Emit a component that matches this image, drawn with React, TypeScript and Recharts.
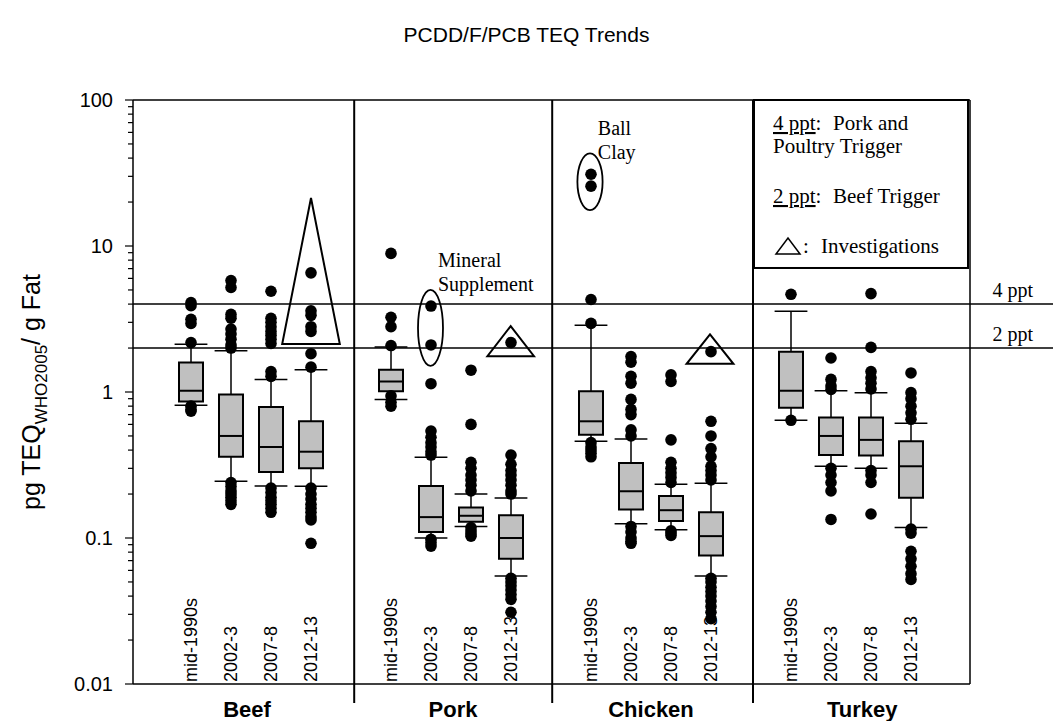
import React from 'react';
import {
  ComposedChart,
  XAxis,
  YAxis,
  Scatter,
  ReferenceLine,
  ReferenceArea,
  ReferenceDot,
} from 'recharts';

const species = ['Beef', 'Pork', 'Chicken', 'Turkey'];
const periods = ['mid-1990s', '2002-3', '2007-8', '2012-13'];
// slot of each box on the x scale (one empty slot between species)
const boxSlots = [0, 1, 2, 3, 5, 6, 7, 8, 10, 11, 12, 13, 15, 16, 17, 18];
const speciesLabelPos = [1.4, 6.55, 11.5, 16.78];
const dividerPos = [4.08, 9.03, 14.05];
const X_MIN = -1.45;
const X_MAX = 21.55;
const FRAME_RIGHT = 19.475;

const yMajorTicks = [0.01, 0.1, 1, 10, 100];
const yTickLabels = ['0.01', '0.1', '1', '10', '100'];
const yMinorTicks = [
  0.02, 0.03, 0.04, 0.05, 0.06, 0.07, 0.08, 0.09,
  0.2, 0.3, 0.4, 0.5, 0.6, 0.7, 0.8, 0.9,
  2, 3, 4, 5, 6, 7, 8, 9,
  20, 30, 40, 50, 60, 70, 80, 90,
];

// box stats, order: Beef x4, Pork x4, Chicken x4, Turkey x4
const q1 = [0.86, 0.36, 0.283, 0.3, 1.01, 0.11, 0.129, 0.072, 0.51, 0.157, 0.131, 0.076, 0.78, 0.37, 0.367, 0.189];
const median = [1.02, 0.5, 0.42, 0.39, 1.18, 0.139, 0.142, 0.1, 0.63, 0.209, 0.155, 0.103, 1.02, 0.5, 0.47, 0.31];
const q3 = [1.59, 0.96, 0.79, 0.63, 1.42, 0.227, 0.162, 0.143, 1.01, 0.327, 0.194, 0.15, 1.89, 0.67, 0.67, 0.46];
const whiskerLow = [0.81, 0.245, 0.227, 0.226, 0.89, 0.1, 0.12, 0.055, 0.46, 0.125, 0.114, 0.055, 0.64, 0.31, 0.3, 0.118];
const whiskerHigh = [2.12, 1.92, 1.22, 1.42, 2.03, 0.357, 0.2, 0.188, 2.87, 0.476, 0.233, 0.237, 3.58, 1.02, 0.99, 0.61];

const outliers = [
  [4.1, 3.9, 3.15, 2.95, 2.18, 0.8, 0.76, 0.74],
  [5.8, 5.2, 3.4, 3.2, 2.7, 2.5, 2.3, 2.1, 2.0, 0.24, 0.225, 0.21, 0.2, 0.19, 0.18, 0.17],
  [4.9, 3.2, 3.0, 2.8, 2.6, 2.45, 2.3, 2.15, 1.38, 1.28, 0.22, 0.205, 0.19, 0.18, 0.17, 0.16, 0.15],
  [6.55, 3.6, 3.35, 2.8, 2.6, 1.83, 1.48, 0.22, 0.2, 0.185, 0.17, 0.16, 0.15, 0.14, 0.133, 0.092],
  [8.9, 3.25, 2.8, 2.08, 0.94, 0.85, 0.8],
  [3.88, 2.1, 1.14, 0.54, 0.49, 0.45, 0.42, 0.39, 0.37, 0.098, 0.093, 0.088],
  [1.41, 0.6, 0.33, 0.3, 0.27, 0.25, 0.23, 0.21, 0.118, 0.112, 0.107, 0.103],
  [2.18, 0.37, 0.32, 0.29, 0.27, 0.25, 0.23, 0.21, 0.2, 0.053, 0.05, 0.047, 0.044, 0.041, 0.038, 0.031],
  [31, 25.7, 4.3, 2.95, 0.45, 0.42, 0.4, 0.38, 0.36],
  [1.75, 1.6, 1.28, 1.15, 0.89, 0.76, 0.7, 0.55, 0.5, 0.12, 0.11, 0.1, 0.095, 0.092],
  [1.31, 1.18, 0.47, 0.33, 0.3, 0.28, 0.26, 0.24, 0.112, 0.108, 0.104],
  [1.89, 0.63, 0.5, 0.41, 0.36, 0.31, 0.29, 0.27, 0.25, 0.053, 0.05, 0.046, 0.043, 0.04, 0.037, 0.034, 0.031, 0.028],
  [4.67, 0.64],
  [1.71, 1.22, 1.1, 1.04, 0.3, 0.27, 0.24, 0.21, 0.134],
  [4.72, 2.02, 1.38, 1.25, 1.15, 1.05, 0.29, 0.27, 0.24, 0.146],
  [1.35, 0.99, 0.9, 0.8, 0.72, 0.65, 0.115, 0.108, 0.081, 0.072, 0.064, 0.057, 0.052],
];

const triggers = [4, 2];
const triggerLabels = ['4 ppt', '2 ppt'];

// investigation triangles and circled outliers, in data units
const triangles = [
  { x1: 2.28, x2: 3.72, y1: 2.13, y2: 21.3 },
  { x1: 7.41, x2: 8.575, y1: 1.76, y2: 2.83 },
  { x1: 12.39, x2: 13.56, y1: 1.56, y2: 2.48 },
];
const ellipses = [
  { x1: 5.675, x2: 6.3, y1: 1.51, y2: 5.0 },
  { x1: 9.66, x2: 10.29, y1: 17.6, y2: 43.1 },
];

const sans = "'Liberation Sans', Arial, sans-serif";
const serif = "'Liberation Serif', 'Times New Roman', serif";

const outlierPts = outliers.flatMap((vals, i) => vals.map((v) => ({ x: boxSlots[i], y: v })));
const periodPts = boxSlots.map((s, i) => ({ x: s, y: 0.01, label: periods[i % 4] }));

function YTick(props: any) {
  const { x, y, payload } = props;
  const idx = yMajorTicks.indexOf(payload.value);
  const major = idx >= 0;
  return (
    <g>
      <line x1={x - (major ? 8 : 5)} x2={x} y1={y} y2={y} stroke="#000" strokeWidth={1.2} />
      {major && (
        <text x={x - 20} y={y} dy={7} textAnchor="end" fontSize={20} fontFamily={sans} fill="#000">
          {yTickLabels[idx]}
        </text>
      )}
    </g>
  );
}

function XTick(props: any) {
  const { x, y, payload } = props;
  if (dividerPos.indexOf(payload.value) >= 0) {
    return <line x1={x} x2={x} y1={y} y2={y + 19} stroke="#000" strokeWidth={2} />;
  }
  const si = speciesLabelPos.indexOf(payload.value);
  return (
    <text x={x} y={y + 33} textAnchor="middle" fontSize={22} fontWeight="bold" fontFamily={sans} fill="#000">
      {species[si]}
    </text>
  );
}

const Dot = (p: any) => <circle cx={p.cx} cy={p.cy} r={5.8} fill="#000" />;

const PeriodLabel = (p: any) => (
  <text
    transform={`translate(${p.cx + 6},${p.cy - 2}) rotate(-90)`}
    fontSize={18}
    fontFamily={sans}
    fill="#000"
  >
    {p.payload?.label}
  </text>
);

const Triangle = (p: any) => (
  <polygon
    points={`${p.x + p.width / 2},${p.y} ${p.x},${p.y + p.height} ${p.x + p.width},${p.y + p.height}`}
    fill="none"
    stroke="#000"
    strokeWidth={2}
  />
);

const Ellipse = (p: any) => (
  <ellipse
    cx={p.x + p.width / 2}
    cy={p.y + p.height / 2}
    rx={p.width / 2}
    ry={p.height / 2}
    fill="none"
    stroke="#000"
    strokeWidth={1.8}
  />
);

const LegendBox = (p: any) => {
  const { x, y, width, height } = p;
  const t = { fontSize: 21, fontFamily: serif, fill: '#000' };
  return (
    <g>
      <rect x={x} y={y} width={width} height={height} fill="#fff" stroke="#000" strokeWidth={2} />
      <text {...t} x={x + 19} y={y + 30}>
        <tspan textDecoration="underline">4 ppt</tspan>
        <tspan>:</tspan>
        <tspan x={x + 79}>Pork and</tspan>
      </text>
      <text {...t} x={x + 19} y={y + 53}>Poultry Trigger</text>
      <text {...t} x={x + 19} y={y + 103}>
        <tspan textDecoration="underline">2 ppt</tspan>
        <tspan>:</tspan>
        <tspan x={x + 79}>Beef Trigger</tspan>
      </text>
      <polygon
        points={`${x + 22},${y + 154} ${x + 46},${y + 154} ${x + 34},${y + 138}`}
        fill="none"
        stroke="#000"
        strokeWidth={1.5}
      />
      <text {...t} x={x + 49} y={y + 153}>
        <tspan>:</tspan>
        <tspan x={x + 67}>Investigations</tspan>
      </text>
    </g>
  );
};

const NoteText = (lines: string[]) => (p: any) => (
  <text x={p.cx} y={p.cy} fontSize={20} fontFamily={serif} fill="#000">
    {lines.map((l, i) => (
      <tspan key={l} x={p.cx} dy={i === 0 ? 0 : 24}>
        {l}
      </tspan>
    ))}
  </text>
);

const YLabel = () => (
  <text
    transform="translate(40,392) rotate(-90)"
    textAnchor="middle"
    fontSize={25}
    fontFamily={sans}
    fill="#000"
  >
    <tspan>pg TEQ</tspan>
    <tspan fontSize={17} dy={7}>WHO2005</tspan>
    <tspan dy={-7}>/ g Fat</tspan>
  </text>
);

export default function App() {
  return (
    <div style={{ position: 'absolute', left: 0, top: 0, width: 1053, height: 721, background: '#fff' }}>
      <div
        style={{
          position: 'absolute',
          left: 0,
          top: 24,
          width: 1053,
          textAlign: 'center',
          fontFamily: sans,
          fontSize: 21,
          lineHeight: '21px',
          color: '#000',
        }}
      >
        PCDD/F/PCB TEQ Trends
      </div>
      <ComposedChart width={1053} height={721} margin={{ top: 100, right: 0, bottom: 0, left: 0 }}>
        <XAxis
          type="number"
          dataKey="x"
          domain={[X_MIN, X_MAX]}
          allowDataOverflow
          ticks={[...speciesLabelPos, ...dividerPos].sort((a, b) => a - b)}
          interval={0}
          axisLine={false}
          tickLine={false}
          tickSize={0}
          tickMargin={0}
          height={37}
          tick={(p: any) => <XTick {...p} />}
        />
        <YAxis
          type="number"
          dataKey="y"
          scale="log"
          domain={[0.01, 100]}
          allowDataOverflow
          ticks={[...yMajorTicks, ...yMinorTicks].sort((a, b) => a - b)}
          interval={0}
          width={133}
          axisLine={{ stroke: '#000', strokeWidth: 1.5 }}
          tickLine={false}
          tickSize={0}
          tickMargin={0}
          tick={(p: any) => <YTick {...p} />}
          label={{ content: () => <YLabel /> }}
        />

        {/* frame */}
        <ReferenceLine segment={[{ x: X_MIN, y: 100 }, { x: FRAME_RIGHT, y: 100 }]} stroke="#000" strokeWidth={1.5} ifOverflow="visible" />
        <ReferenceLine segment={[{ x: FRAME_RIGHT, y: 0.01 }, { x: FRAME_RIGHT, y: 100 }]} stroke="#000" strokeWidth={1.5} ifOverflow="visible" />
        <ReferenceLine segment={[{ x: X_MIN, y: 0.01 }, { x: FRAME_RIGHT, y: 0.01 }]} stroke="#000" strokeWidth={1.5} ifOverflow="visible" />

        {dividerPos.map((d) => (
          <ReferenceLine key={`d${d}`} x={d} stroke="#000" strokeWidth={2} />
        ))}

        {triggers.map((t, i) => (
          <ReferenceLine
            key={`t${t}`}
            y={t}
            stroke="#000"
            strokeWidth={1.5}
            label={{
              content: (lp: any) => {
                const vb = lp.viewBox || {};
                return (
                  <text x={(vb.x ?? 133) + (vb.width ?? 920) - 20} y={(vb.y ?? 0) - 7} textAnchor="end" fontSize={20} fontFamily={serif} fill="#000">
                    {triggerLabels[i]}
                  </text>
                );
              },
            }}
          />
        ))}

        <ReferenceArea x1={14.075} x2={19.425} y1={7.07} y2={100} shape={LegendBox} ifOverflow="visible" />

        {boxSlots.map((s, i) => (
          <React.Fragment key={`b${i}`}>
            <ReferenceLine segment={[{ x: s, y: q3[i] }, { x: s, y: whiskerHigh[i] }]} stroke="#000" strokeWidth={1.5} />
            <ReferenceLine segment={[{ x: s, y: q1[i] }, { x: s, y: whiskerLow[i] }]} stroke="#000" strokeWidth={1.5} />
            <ReferenceLine segment={[{ x: s - 0.41, y: whiskerHigh[i] }, { x: s + 0.41, y: whiskerHigh[i] }]} stroke="#000" strokeWidth={1.5} />
            <ReferenceLine segment={[{ x: s - 0.41, y: whiskerLow[i] }, { x: s + 0.41, y: whiskerLow[i] }]} stroke="#000" strokeWidth={1.5} />
            <ReferenceArea x1={s - 0.3} x2={s + 0.3} y1={q1[i]} y2={q3[i]} fill="#c0c0c0" fillOpacity={1} stroke="#000" strokeWidth={2} />
            <ReferenceLine segment={[{ x: s - 0.3, y: median[i] }, { x: s + 0.3, y: median[i] }]} stroke="#000" strokeWidth={2} />
          </React.Fragment>
        ))}

        {triangles.map((t, i) => (
          <ReferenceArea key={`tri${i}`} {...t} shape={Triangle} />
        ))}
        {ellipses.map((e, i) => (
          <ReferenceArea key={`el${i}`} {...e} shape={Ellipse} />
        ))}

        <ReferenceDot x={6.175} y={7.2} r={0} shape={NoteText(['Mineral', 'Supplement'])} />
        <ReferenceDot x={10.17} y={57.6} r={0} shape={NoteText(['Ball', 'Clay'])} />

        <Scatter data={outlierPts} dataKey="y" shape={Dot} isAnimationActive={false} />
        <Scatter data={periodPts} dataKey="y" shape={PeriodLabel} isAnimationActive={false} />
      </ComposedChart>
    </div>
  );
}
